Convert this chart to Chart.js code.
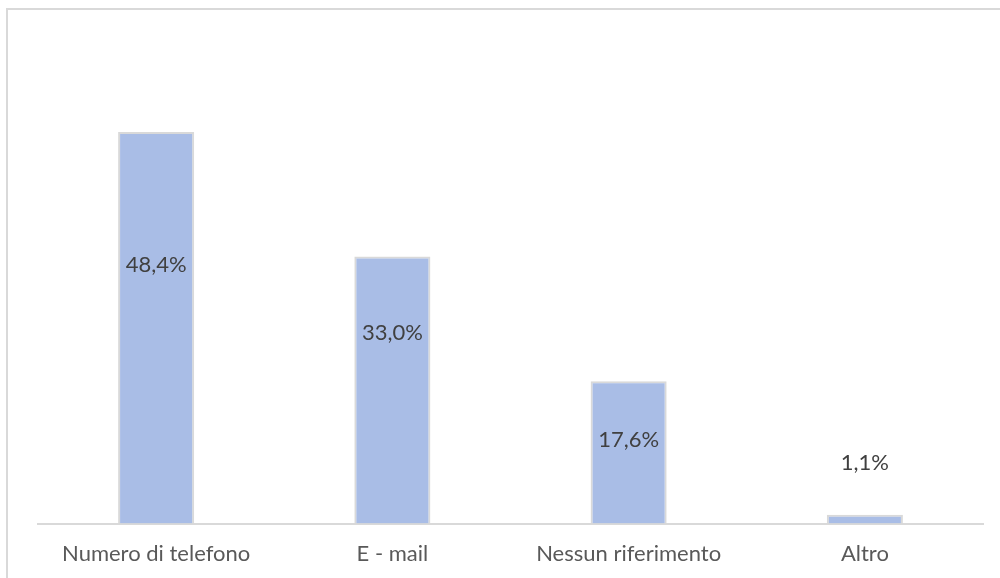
<!DOCTYPE html>
<html>
<head>
<meta charset="utf-8">
<script src="https://cdn.jsdelivr.net/npm/chart.js@4/dist/chart.umd.min.js"></script>
<style>
  html, body { margin: 0; padding: 0; background: #fff; }
  #wrap { position: relative; width: 1000px; height: 578px; overflow: hidden; }
  #frame { position: absolute; left: 6px; top: 8px; width: 1100px; height: 700px;
           border-left: 2px solid #D9D9D9; border-top: 2px solid #D9D9D9; }
  canvas { position: absolute; left: 0; top: 0; }
</style>
</head>
<body>
<div id="wrap">
  <div id="frame"></div>
  <canvas id="chart-contatti" width="1000" height="578"></canvas>
</div>
<script>
const categories = ["Numero di telefono", "E - mail", "Nessun riferimento", "Altro"];
const values = [48.4, 33.0, 17.6, 1.1];
const valueLabels = ["48,4%", "33,0%", "17,6%", "1,1%"];

// where each value label sits, measured from the top of its bar (px)
const labelOffsets = [133, 76, 59, -52];

const valueLabelPlugin = {
  id: "valueLabels",
  afterDatasetsDraw(chart) {
    const ctx = chart.ctx;
    const meta = chart.getDatasetMeta(0);
    ctx.save();
    ctx.font = "22px Lato";
    ctx.fillStyle = "#404040";
    ctx.textAlign = "center";
    ctx.textBaseline = "middle";
    meta.data.forEach((bar, i) => {
      ctx.fillText(valueLabels[i], bar.x, bar.y + labelOffsets[i]);
    });
    ctx.restore();
  },
};

new Chart(document.getElementById("chart-contatti"), {
  type: "bar",
  data: {
    labels: categories,
    datasets: [
      {
        data: values,
        backgroundColor: "#A9BDE6",
        borderColor: "#D9D9D9",
        borderWidth: 2,
        barPercentage: 0.322,
        categoryPercentage: 1,
      },
    ],
  },
  options: {
    responsive: false,
    animation: false,
    events: [],
    layout: {
      padding: { left: 38, right: 17, top: 38, bottom: 2 },
    },
    plugins: {
      legend: { display: false },
      tooltip: { enabled: false },
    },
    scales: {
      x: {
        grid: { display: false },
        border: { display: true, color: "#D9D9D9", width: 2 },
        ticks: {
          color: "#595959",
          font: { family: "Lato", size: 22 },
          padding: 9,
        },
      },
      y: {
        display: false,
        min: 0,
        max: 60,
      },
    },
  },
  plugins: [valueLabelPlugin],
});
</script>
</body>
</html>
